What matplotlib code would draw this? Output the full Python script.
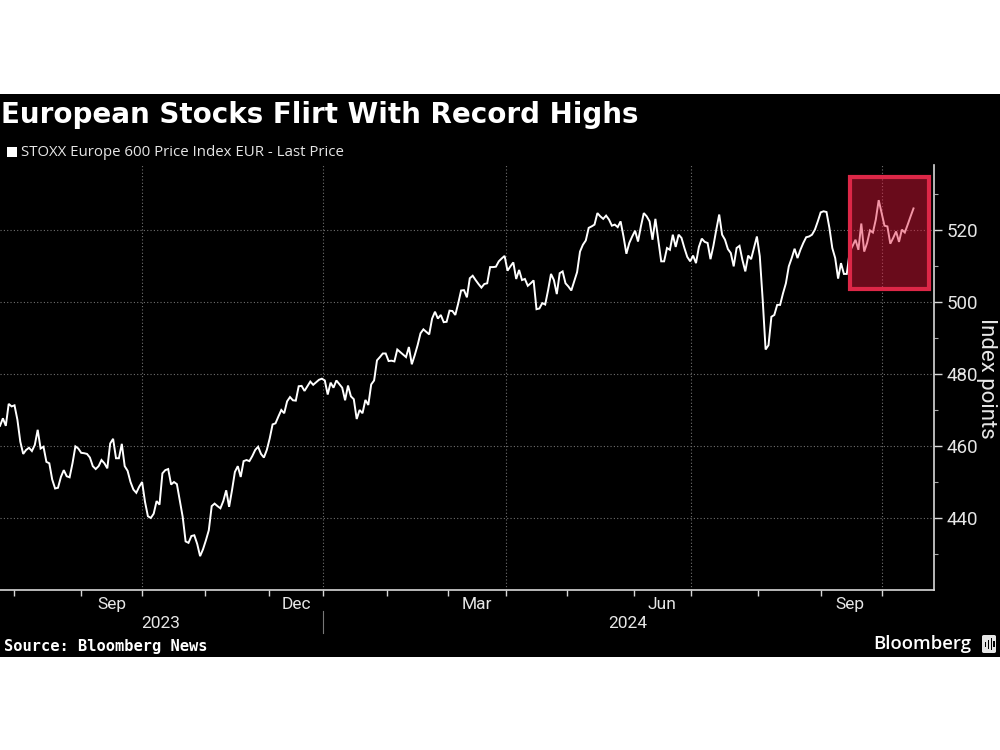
import numpy as np
import matplotlib
matplotlib.use("Agg")
import matplotlib.pyplot as plt
from matplotlib.patches import Rectangle, FancyBboxPatch

# last price, one value per trading session
prices = [
    465.6, 467.7, 465.6, 471.7, 471.0, 471.3, 467.3, 461.2, 457.8, 458.9,
    459.5, 458.6, 460.3, 464.5, 459.3, 459.8, 455.6, 455.2, 450.7, 448.2,
    448.4, 451.4, 453.3, 451.6, 451.3, 455.2, 459.9, 459.3, 458.1, 458.0,
    457.8, 456.8, 454.4, 453.6, 454.4, 456.1, 455.2, 453.8, 460.7, 462.0,
    456.6, 456.6, 460.6, 454.4, 453.1, 450.0, 447.9, 447.0, 448.7, 450.0,
    444.5, 440.5, 440.0, 441.2, 444.7, 443.7, 452.4, 453.3, 453.6, 449.3,
    450.0, 449.4, 444.9, 440.3, 433.5, 433.1, 435.0, 435.2, 432.8, 429.4,
    431.3, 433.8, 436.6, 443.3, 444.0, 443.3, 442.7, 444.7, 447.7, 443.1,
    447.7, 452.8, 454.4, 451.4, 455.8, 456.1, 455.8, 457.2, 458.9, 459.8,
    457.8, 456.8, 458.9, 462.1, 466.0, 466.3, 468.2, 470.0, 469.1, 472.4,
    473.6, 472.7, 472.6, 476.6, 476.7, 475.3, 476.6, 477.9, 477.0, 477.7,
    478.4, 478.7, 478.2, 474.3, 477.6, 476.2, 478.2, 477.2, 476.2, 472.7,
    476.8, 473.8, 473.0, 467.5, 470.0, 469.1, 472.8, 471.4, 477.1, 478.2,
    483.8, 484.7, 485.7, 485.7, 483.6, 483.7, 483.5, 486.8, 486.1, 485.4,
    484.7, 487.5, 482.7, 485.2, 488.0, 491.3, 492.4, 491.7, 491.0, 495.4,
    497.3, 495.4, 496.4, 494.4, 494.5, 497.6, 497.5, 496.4, 499.6, 503.2,
    503.3, 501.3, 506.6, 507.3, 506.1, 505.0, 504.0, 505.0, 505.2, 509.7,
    509.7, 509.8, 511.3, 512.1, 512.8, 508.7, 509.9, 511.0, 506.4, 508.9,
    506.1, 506.4, 504.5, 505.2, 506.0, 498.0, 498.2, 499.7, 499.3, 503.3,
    507.8, 506.1, 502.2, 508.0, 508.5, 505.2, 504.3, 503.2, 505.7, 508.3,
    514.0, 515.9, 517.1, 520.6, 521.0, 521.5, 524.7, 523.8, 523.1, 524.0,
    522.9, 521.2, 521.5, 520.8, 522.4, 518.2, 513.4, 516.4, 518.2, 519.8,
    516.8, 521.0, 524.7, 523.8, 522.4, 517.3, 523.1, 517.3, 511.3, 511.3,
    515.0, 514.5, 518.7, 515.3, 518.7, 517.8, 515.0, 512.5, 511.3, 512.9,
    510.8, 515.3, 517.6, 516.7, 516.4, 511.9, 515.6, 520.1, 524.3, 518.7,
    517.3, 514.7, 513.6, 509.9, 515.0, 515.6, 511.7, 508.5, 512.9, 511.9,
    515.0, 518.2, 512.7, 500.6, 486.8, 488.0, 495.9, 496.4, 499.2, 499.2,
    502.4, 505.2, 509.9, 512.2, 514.8, 512.2, 514.5, 516.4, 518.0, 518.2,
    518.7, 520.1, 522.4, 524.9, 525.2, 525.0, 520.6, 515.0, 512.2, 506.5,
    510.8, 507.8, 507.8, 514.0, 515.6, 517.3, 514.5, 521.8, 514.0, 516.4,
    519.9, 519.3, 522.9, 528.3, 524.7, 521.2, 521.0, 516.2, 517.8, 519.6,
    516.7, 520.1, 519.3, 521.5, 523.8, 526.0,
]

# sessions where months end
month_ends = [4.8, 27.9, 49.0, 70.7, 92.8, 111.4, 133.4, 154.5, 174.5, 195.5,
              218.6, 238.3, 261.4, 283.1, 304.1]
quarter_ends = [49.0, 111.4, 174.5, 238.3, 304.1]
quarter_labels = ["Sep", "Dec", "Mar", "Jun", "Sep"]
quarter_label_pos = [38.6, 102.1, 164.5, 228.3, 293.1]
year_labels = ["2023", "2024"]
year_label_pos = [55.5, 216.5]
year_break = 111.4

y_major = [440, 460, 480, 500, 520]
y_minor = [430, 450, 470, 490, 510, 530]

plt.rcParams["font.family"] = ["Roboto", "DejaVu Sans"]

fig = plt.figure(figsize=(10, 7.5), dpi=100, facecolor="white")
fig.patches.append(Rectangle((0, 93 / 750), 1, 563 / 750, transform=fig.transFigure,
                             facecolor="black", edgecolor="none", zorder=-5))

ax = fig.add_axes([0, 160 / 750, 0.934, 425 / 750], facecolor="black")
ax.set_xlim(0, 322.07)
ax.set_ylim(420, 538.06)

ax.plot(np.arange(len(prices)), prices, color="white", lw=1.4, solid_joinstyle="miter", zorder=3)

# highlight box goes over the line
ax.add_patch(Rectangle((293.0, 503.5), 27.5, 31.2, facecolor=(0.9, 0.1, 0.24, 0.46),
                       edgecolor="#dc2747", lw=3, zorder=4, clip_on=False))

for s in ["top", "left"]:
    ax.spines[s].set_visible(False)
ax.spines["bottom"].set_color("#d8d8d8")
ax.spines["right"].set_color("#d8d8d8")
ax.spines["bottom"].set_linewidth(1.2)
ax.spines["right"].set_linewidth(1.2)

ax.yaxis.tick_right()
ax.set_yticks(y_major, [str(v) for v in y_major])
ax.set_yticks(y_minor, minor=True)
ax.tick_params(axis="y", which="major", length=6, width=1, color="#d8d8d8", labelcolor="#e6e6e6",
               labelsize=13.5, pad=3)
ax.tick_params(axis="y", which="minor", length=3, width=0.8, color="#a8a8a8")

ax.set_xticks(month_ends, [""] * len(month_ends))
ax.set_xticks(quarter_label_pos, quarter_labels, minor=True)
ax.tick_params(axis="x", which="major", length=4, width=1, color="#d8d8d8")
ax.tick_params(axis="x", which="minor", length=0, labelcolor="#e6e6e6", labelsize=12.5, pad=5)

ax.grid(False)
for q in quarter_ends:
    ax.axvline(q, color="#707070", lw=0.8, ls=(0, (1, 2)), zorder=1)
for v in y_major:
    ax.axhline(v, color="#707070", lw=0.8, ls=(0, (1, 2)), zorder=1)

trans = ax.get_xaxis_transform()
for pos, lab in zip(year_label_pos, year_labels):
    ax.text(pos, -0.0785, lab, transform=trans, color="#e6e6e6", fontsize=12.5,
            ha="center", va="center", clip_on=False)
ax.plot([year_break, year_break], [-0.05, -0.101], transform=trans, color="#777777", lw=0.8,
        clip_on=False)

fig.text(976 / 1000, 1 - 378 / 750, "Index points", rotation=-90, color="#e6e6e6",
         fontsize=16, ha="left", va="center")

fig.text(1 / 1000, 1 - 115 / 750, "European Stocks Flirt With Record Highs", color="white",
         fontsize=20, fontweight="bold", family="DejaVu Sans", ha="left", va="center")

fig.patches.append(Rectangle((7 / 1000, 1 - 157 / 750), 10 / 1000, 10 / 750,
                             transform=fig.transFigure, facecolor="white", edgecolor="none"))
fig.text(21 / 1000, 1 - 152 / 750, "STOXX Europe 600 Price Index EUR - Last Price",
         color="#e6e6e6", fontsize=10.8, family="Open Sans", ha="left", va="center")

fig.text(4 / 1000, 1 - 646 / 750, "Source: Bloomberg News", color="white", fontsize=11.1,
         fontweight="bold", family="DejaVu Sans Mono", ha="left", va="center")
fig.text(873 / 1000, 1 - 644 / 750, "Bloomberg", color="white", fontsize=13.3,
         family="Open Sans", fontweight="semibold", ha="left", va="center")

# little bars logo
fig.patches.append(FancyBboxPatch((982 / 1000, 1 - 653 / 750), 14 / 1000, 18 / 750,
                                  boxstyle="round,pad=0,rounding_size=0.002",
                                  transform=fig.transFigure, facecolor="#e6e6e6", edgecolor="none"))
for bx, bh in zip([984.5, 987.5, 990.5, 993], [5, 9, 12, 6]):
    fig.patches.append(Rectangle((bx / 1000, 1 - (644 + bh / 2) / 750), 1.5 / 1000, bh / 750,
                                 transform=fig.transFigure, facecolor="black", edgecolor="none"))

fig.savefig("out.png", dpi=100, facecolor="white")
